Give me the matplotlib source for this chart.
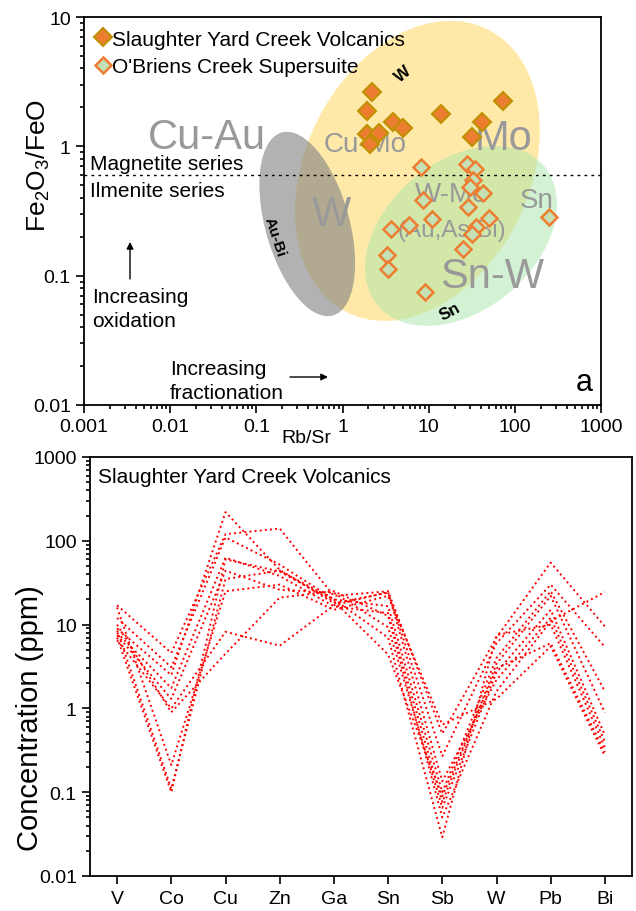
import numpy as np
import matplotlib
matplotlib.use("Agg")
import matplotlib.pyplot as plt
from matplotlib.patches import Ellipse
from matplotlib.transforms import IdentityTransform
from matplotlib.ticker import LogLocator, FuncFormatter, NullFormatter

plt.rcParams['font.family'] = ['Liberation Sans', 'DejaVu Sans']
plt.rcParams['mathtext.default'] = 'regular'

# ---- panel a: Rb/Sr vs Fe2O3/FeO ----
syc_rbsr = [2.19, 1.92, 3.85, 5.0, 1.92, 2.64, 2.08, 13.9, 31.7, 41.4, 72.6]
syc_fe = [2.64, 1.88, 1.55, 1.39, 1.25, 1.27, 1.04, 1.78, 1.18, 1.55, 2.24]

obc_rbsr = [8.1, 27.7, 34.4, 32.6, 30.1, 42.6, 8.6, 28.5, 10.9, 5.9,
            49.9, 35.3, 31.7, 25.0, 9.0, 250, 3.64, 3.27, 3.37]
obc_fe = [0.69, 0.73, 0.67, 0.55, 0.485, 0.436, 0.385, 0.34, 0.275, 0.247,
          0.279, 0.238, 0.21, 0.161, 0.075, 0.284, 0.23, 0.145, 0.113]

# ---- panel b: trace elements, Slaughter Yard Creek Volcanics ----
elements = ['V', 'Co', 'Cu', 'Zn', 'Ga', 'Sn', 'Sb', 'W', 'Pb', 'Bi']
samples = [
    [17, 4.6, 120, 140, 22, 25, 0.5, 7, 55, 9.5],
    [9, 2.5, 220, 45, 18, 24, 0.27, 6, 30, 5.4],
    [12, 3.1, 110, 52, 20, 16.6, 0.1, 4, 25, 1.6],
    [8, 1.75, 63, 38, 16.5, 13.7, 0.076, 3.4, 22, 0.89],
    [7.5, 1.3, 44, 26, 24, 9.3, 0.065, 2.7, 15, 0.48],
    [6.5, 1.0, 8.2, 5.6, 17, 24.5, 0.135, 2.2, 12, 0.40],
    [10, 0.9, 4.5, 21, 25, 12.7, 0.05, 1.6, 11, 24.5],
    [8.5, 0.11, 35, 44, 20, 7, 0.029, 7.5, 10, 0.34],
    [7, 0.10, 60, 43, 19, 4.4, 0.09, 3, 6, 0.30],
    [16, 0.21, 25, 30, 15, 22, 0.64, 1.3, 5.5, 0.27],
]

W, H, DPI = 6.36, 9.12, 100
fig = plt.figure(figsize=(W, H), dpi=DPI)

def pct(v):
    return '%g' % v

# ================= top panel =================
ax = fig.add_axes([84/636, 1-406/912, 517/636, 388/912])
ax.set_xscale('log')
ax.set_yscale('log')
ax.set_xlim(0.001, 1000)
ax.set_ylim(0.01, 10)
fig.canvas.draw()

def ell(xy, a, b, ang, **kw):
    # ellipse sized in pixels, centred on a data point
    c = ax.transData.transform(xy)
    e = Ellipse(c, 2*a, 2*b, angle=ang, transform=IdentityTransform(), **kw)
    ax.add_patch(e)

ell((7.4, 0.646), 158, 112, 63.6, facecolor='#FFE699', edgecolor='none', alpha=0.85, zorder=1)
ell((23.7, 0.203), 108.5, 74.5, 39.8, facecolor='#A9E6A9', edgecolor='none', alpha=0.5, zorder=2)
ell((0.39, 0.251), 95, 42, 105.6, facecolor='#808080', edgecolor='none', alpha=0.6, zorder=3)

gray = '#999999'
ax.text(0.02676, 0.975, 'Cu-Au', fontsize=30, color=gray, ha='center', va='baseline', zorder=4)
ax.text(72.9, 0.955, 'Mo', fontsize=30, color=gray, ha='center', va='baseline', zorder=4)
ax.text(1.82, 0.921, 'Cu-Mo', fontsize=20, color=gray, ha='center', va='baseline', zorder=4)
ax.text(0.735, 0.247, 'W', fontsize=30, color=gray, ha='center', va='baseline', zorder=4)
ax.text(18.65, 0.378, 'W-Mo', fontsize=20, color=gray, ha='center', va='baseline', zorder=4)
ax.text(18.65, 0.203, '(Au,As,Bi)', fontsize=17.5, color=gray, ha='center', va='baseline', zorder=4)
ax.text(180.7, 0.34, 'Sn', fontsize=20, color=gray, ha='center', va='baseline', zorder=4)
ax.text(54.3, 0.0818, 'Sn-W', fontsize=30, color=gray, ha='center', va='baseline', zorder=4)

ax.text(5.04, 3.63, 'W', fontsize=12, fontweight='bold', rotation=40, ha='center', va='center', zorder=4)
ax.text(0.1646, 0.203, 'Au-Bi', fontsize=11, fontweight='bold', rotation=-72, ha='center', va='center', zorder=4)
ax.text(17.7, 0.0534, 'Sn', fontsize=12, fontweight='bold', rotation=28, ha='center', va='center', zorder=4)

ax.axhline(0.6, color='black', lw=1, linestyle=(0, (2, 3)), zorder=4)
ax.text(0.001174, 0.668, 'Magnetite series', fontsize=15, ha='left', va='baseline')
ax.text(0.001174, 0.4135, 'Ilmenite series', fontsize=15, ha='left', va='baseline')

ax.text(0.00125, 0.0626, 'Increasing', fontsize=15, ha='left', va='baseline')
ax.text(0.00125, 0.0408, 'oxidation', fontsize=15, ha='left', va='baseline')
ax.annotate('', xy=(0.00342, 0.1823), xytext=(0.00342, 0.0943),
            arrowprops=dict(arrowstyle='-|>', color='black', lw=1, mutation_scale=10,
                            shrinkA=0, shrinkB=0))
ax.text(0.00996, 0.01738, 'Increasing', fontsize=15, ha='left', va='baseline')
ax.text(0.00996, 0.01132, 'fractionation', fontsize=15, ha='left', va='baseline')
ax.annotate('', xy=(0.6785, 0.01646), xytext=(0.2458, 0.01646),
            arrowprops=dict(arrowstyle='-|>', color='black', lw=1, mutation_scale=10,
                            shrinkA=0, shrinkB=0))
ax.text(0.985, 0.02, 'a', fontsize=22, ha='right', va='bottom', transform=ax.transAxes)

ax.plot(syc_rbsr, syc_fe, linestyle='none', marker='D', markersize=9,
        markerfacecolor='#ED7D31', markeredgecolor='#BF9000', markeredgewidth=1.5,
        label='Slaughter Yard Creek Volcanics', zorder=5)
ax.plot(obc_rbsr, obc_fe, linestyle='none', marker='D', markersize=8.5,
        markerfacecolor='#C5E0B4', markeredgecolor='#ED7D31', markeredgewidth=1.8,
        label="O'Briens Creek Supersuite", zorder=5)
ax.legend(loc='upper left', frameon=False, fontsize=15, handlelength=0.6,
          handletextpad=0.15, labelspacing=0.4, borderaxespad=0.55,
          borderpad=0.05)

ax.xaxis.set_major_formatter(FuncFormatter(lambda v, p: pct(v)))
ax.yaxis.set_major_formatter(FuncFormatter(lambda v, p: pct(v)))
ax.xaxis.set_minor_locator(LogLocator(base=10, subs=np.arange(2, 10), numticks=20))
ax.yaxis.set_minor_locator(LogLocator(base=10, subs=np.arange(2, 10), numticks=20))
ax.xaxis.set_minor_formatter(NullFormatter())
ax.yaxis.set_minor_formatter(NullFormatter())
ax.tick_params(which='both', direction='out', labelsize=14, width=1.2)
ax.tick_params(which='major', length=6)
ax.tick_params(which='minor', length=3)
ax.set_ylabel('Fe$_2$O$_3$/FeO', fontsize=19)
ax.yaxis.set_label_coords(-0.062, 0.62)
ax.set_xlabel('Rb/Sr', fontsize=14)
ax.xaxis.set_label_coords(0.431, -0.062)
for s in ax.spines.values():
    s.set_linewidth(1.3)

# ================= bottom panel =================
bx = fig.add_axes([90/636, 1-877/912, 542/636, 419/912])
xs = np.arange(len(elements))
for row in samples:
    bx.plot(xs, row, color='#FF0000', linestyle=':', lw=1.4)
bx.set_yscale('log')
bx.set_ylim(0.01, 1000)
bx.set_xlim(-0.5, len(elements) - 0.5)
bx.set_xticks(xs)
bx.set_xticklabels(elements)
bx.yaxis.set_major_formatter(FuncFormatter(lambda v, p: pct(v)))
bx.yaxis.set_minor_locator(LogLocator(base=10, subs=np.arange(2, 10), numticks=20))
bx.yaxis.set_minor_formatter(NullFormatter())
bx.tick_params(which='both', direction='out', labelsize=14, width=1.2)
bx.tick_params(which='major', length=6)
bx.tick_params(which='minor', length=3)
bx.tick_params(axis='x', pad=4)
bx.set_ylabel('Concentration (ppm)', fontsize=21)
bx.yaxis.set_label_coords(-0.085, 0.38)
bx.text(0.015, 0.975, 'Slaughter Yard Creek Volcanics', fontsize=15,
        ha='left', va='top', transform=bx.transAxes)
for s in bx.spines.values():
    s.set_linewidth(1.3)

fig.savefig('out.png', dpi=DPI)
